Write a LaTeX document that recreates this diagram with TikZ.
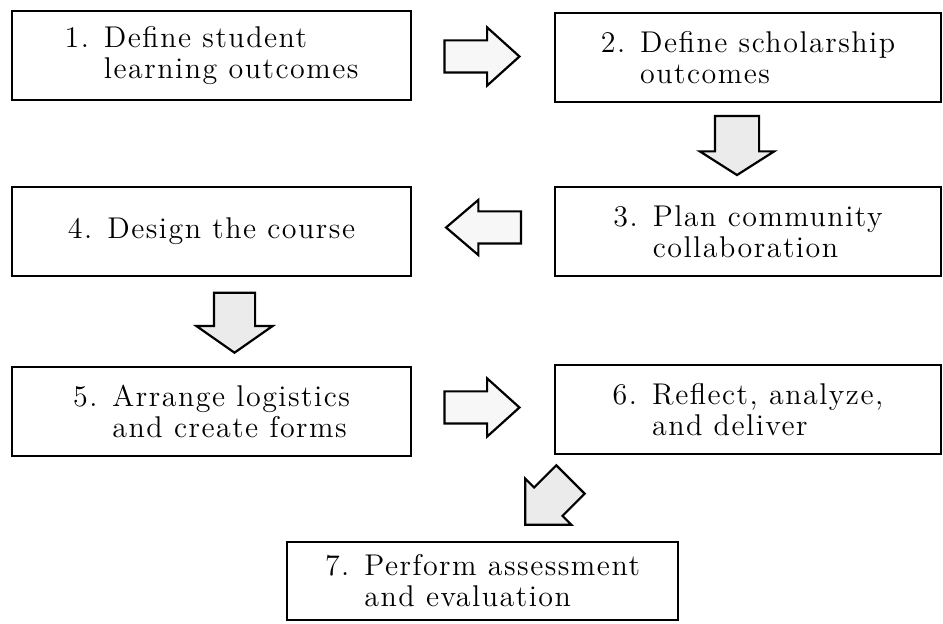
\documentclass[tikz,border=0pt]{standalone}
\usepackage{fontspec}
\usepackage{tikz}
\usetikzlibrary{calc}
\usetikzlibrary{shapes.arrows}

\newfontfamily\stagefont{lmroman12-regular.otf}[LetterSpace=5]

\tikzset{
  stage/.style={draw, line width=1.6pt, minimum height=89pt, inner sep=0pt,
    align=left, font=\stagefont\fontsize{30}{31}\selectfont},
  leftstage/.style={stage, minimum width=399pt},
  rightstage/.style={stage, minimum width=386pt},
  blockarrow/.style={single arrow, draw, line width=2.2pt, inner xsep=0pt,
    inner ysep=15pt, fill=gray!6},
  grayarrow/.style={blockarrow, fill=gray!16},
}

\begin{document}
\begin{tikzpicture}[x=1pt,y=1pt]
  \useasboundingbox (0,0) rectangle (943,624);

  % the seven stages
  \node[leftstage] (b1) at (211.5,568.5) {1. Define student\\\hphantom{1. }learning outcomes};
  \node[rightstage] (b2) at (748,566.5) {2. Define scholarship\\\hphantom{2. }outcomes};
  \node[rightstage] (b3) at (748,392.5) {3. Plan community\\\hphantom{3. }collaboration};
  \node[leftstage] (b4) at (211.5,392.5) {4. Design the course};
  \node[leftstage] (b5) at (211.5,212.5) {5. Arrange logistics\\\hphantom{5. }and create forms};
  \node[rightstage] (b6) at (748,214.5) {6. Reflect, analyze,\\\hphantom{6. }and deliver};
  \node[stage, minimum width=391pt, minimum height=78pt] (b7) at (482.5,43) {7. Perform assessment\\\hphantom{7. }and evaluation};

  % block arrows between them
  \node[blockarrow, minimum height=75pt,
    single arrow head extend=13pt, single arrow tip angle=84]
    (a12) at ($(b1.east)!0.5!(b2.west)+(-10,0)$) {};
  \node[grayarrow, rotate=-90, minimum height=59pt, inner ysep=21pt,
    single arrow head extend=15pt, single arrow tip angle=115]
    (a23) at ($(b2.south)!0.5!(b3.north)+(-11,6)$) {};
  \node[blockarrow, rotate=180, minimum height=75pt,
    single arrow head extend=11.5pt, single arrow tip angle=81]
    (a34) at ($(b3.west)!0.5!(b4.east)+(10,4)$) {};
  \node[grayarrow, rotate=-90, minimum height=60pt, inner ysep=19.5pt,
    single arrow head extend=17.5pt, single arrow tip angle=110]
    (a45) at ($(b4.south)!0.5!(b5.north)+(23,6)$) {};
  \node[blockarrow, minimum height=75pt,
    single arrow head extend=13pt, single arrow tip angle=84]
    (a56) at ($(b5.east)!0.5!(b6.west)+(-10,3)$) {};
  \node[grayarrow, rotate=225, minimum height=64pt, inner ysep=19pt,
    single arrow head extend=12.5pt, single arrow tip angle=90]
    (a67) at (555,129) {};
\end{tikzpicture}
\end{document}
